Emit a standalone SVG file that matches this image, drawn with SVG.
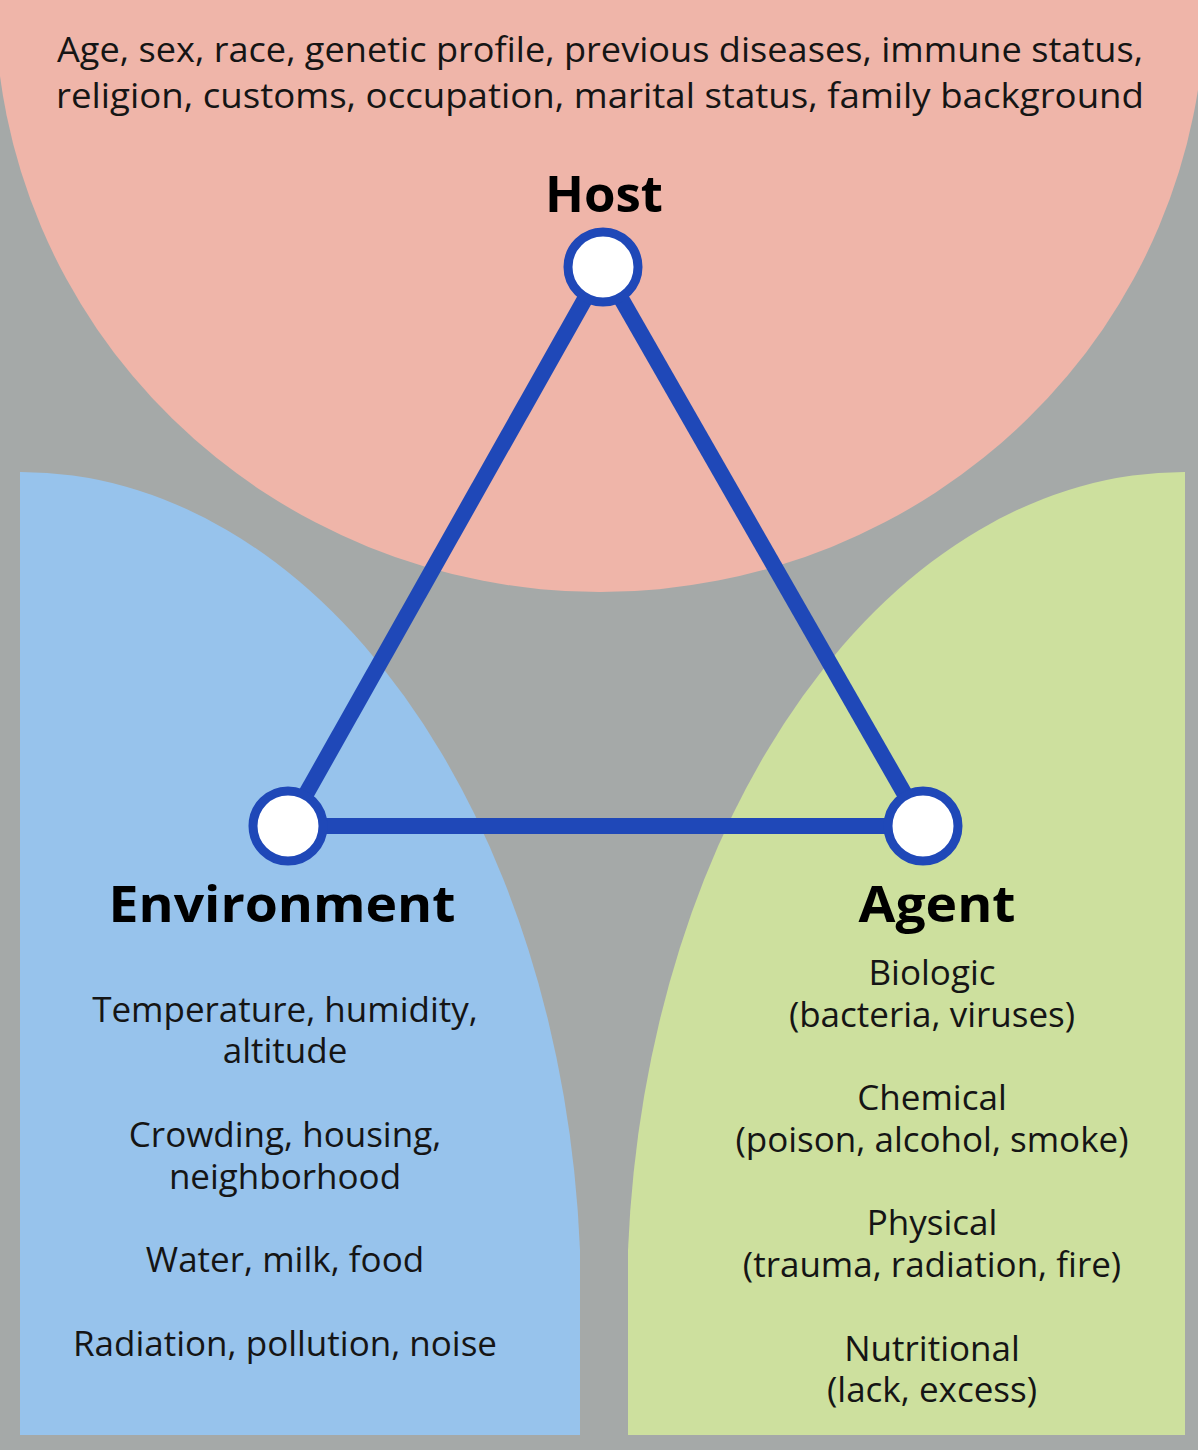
<svg xmlns="http://www.w3.org/2000/svg" width="1198" height="1450" viewBox="0 0 1198 1450">
<style>
.t{font-family:"Open Sans","Liberation Sans",sans-serif;font-size:35px;fill:#151515;text-anchor:middle}
.h{font-family:"Open Sans","Liberation Sans",sans-serif;font-weight:bold;font-size:50px;fill:#000;text-anchor:middle}
.n{fill:#fff;stroke:#1f48b8;stroke-width:9}
</style>
<rect width="1198" height="1450" fill="#a5a9a8"/>
<ellipse cx="600" cy="0" rx="605" ry="592" fill="#efb5a9"/>
<path d="M20,472 A560,828 0 0 1 580,1250 L580,1435 L20,1435 Z" fill="#97c3ec"/>
<path d="M1185,472 A557,828 0 0 0 628,1250 L628,1435 L1185,1435 Z" fill="#cde09e"/>
<text class="t" x="600" y="62" font-size="33" textLength="1086" lengthAdjust="spacingAndGlyphs">Age, sex, race, genetic profile, previous diseases, immune status,</text>
<text class="t" x="600" y="108" font-size="33" textLength="1088" lengthAdjust="spacingAndGlyphs">religion, customs, occupation, marital status, family background</text>
<g id="connectors" stroke="#1f48b8" stroke-width="16" fill="none">
<line x1="603" y1="267" x2="288" y2="826"/>
<line x1="603" y1="267" x2="923" y2="826"/>
<line x1="288" y1="826" x2="923" y2="826"/>
</g>
<g id="host">
<circle class="n" cx="603" cy="267" r="35"/>
<text class="h" x="604" y="212" textLength="118" lengthAdjust="spacingAndGlyphs">Host</text>
</g>
<g id="environment">
<circle class="n" cx="288" cy="826" r="35"/>
<text class="h" x="282" y="922" textLength="347" lengthAdjust="spacingAndGlyphs">Environment</text>
<text class="t" x="285" y="1022">Temperature, humidity,</text>
<text class="t" x="285" y="1063">altitude</text>
<text class="t" x="285" y="1147">Crowding, housing,</text>
<text class="t" x="285" y="1189">neighborhood</text>
<text class="t" x="285" y="1272">Water, milk, food</text>
<text class="t" x="285" y="1356">Radiation, pollution, noise</text>
</g>
<g id="agent">
<circle class="n" cx="923" cy="826" r="35"/>
<text class="h" x="937" y="922" textLength="157" lengthAdjust="spacingAndGlyphs">Agent</text>
<text class="t" x="932" y="985">Biologic</text>
<text class="t" x="932" y="1027">(bacteria, viruses)</text>
<text class="t" x="932" y="1110">Chemical</text>
<text class="t" x="932" y="1152">(poison, alcohol, smoke)</text>
<text class="t" x="932" y="1235">Physical</text>
<text class="t" x="932" y="1277">(trauma, radiation, fire)</text>
<text class="t" x="932" y="1361">Nutritional</text>
<text class="t" x="932" y="1402">(lack, excess)</text>
</g>
</svg>
